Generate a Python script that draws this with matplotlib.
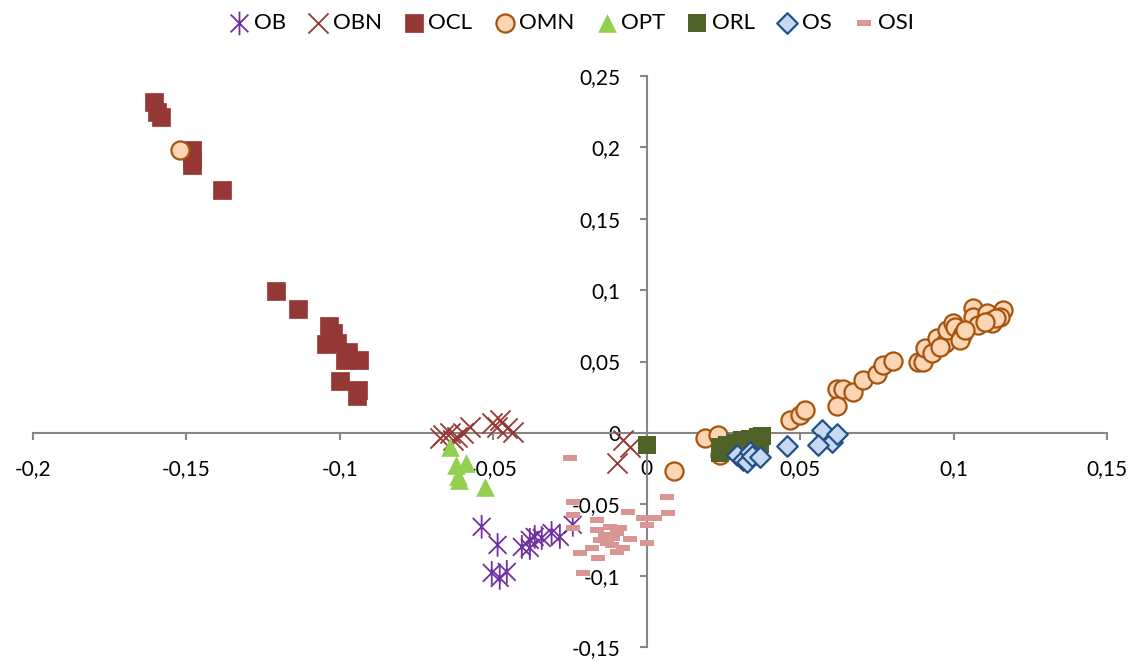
import matplotlib
matplotlib.use("Agg")
import matplotlib.pyplot as plt
import matplotlib.ticker as ticker
from matplotlib.path import Path

plt.rcParams["font.family"] = ["Lato", "DejaVu Sans"]

# ── data ──
ob_x = [-0.0538, -0.0486, -0.0407, -0.0381, -0.0365, -0.0342, -0.0310, -0.0283,
        -0.0241, -0.0505, -0.0479, -0.0456, -0.0381]
ob_y = [-0.0658, -0.0785, -0.0799, -0.0750, -0.0729, -0.0736, -0.0701, -0.0729,
        -0.0644, -0.0981, -0.1016, -0.0974, -0.0806]

obn_x = [-0.0665, -0.0642, -0.0619, -0.0600, -0.0577, -0.0632, -0.0674, -0.0505,
         -0.0479, -0.0456, -0.0437, -0.0489, -0.0078, -0.0055, -0.0098]
obn_y = [-0.0014, 0.0000, -0.0028, 0.0000, 0.0042, -0.0049, -0.0035, 0.0070,
         0.0091, 0.0035, 0.0007, 0.0042, -0.0049, -0.0098, -0.0210]

ocl_x = [-0.1606, -0.1597, -0.1584, -0.1483, -0.1483, -0.1483, -0.1385, -0.1209,
         -0.1137, -0.1036, -0.1023, -0.1046, -0.1010, -0.0974, -0.0984, -0.0938,
         -0.1000, -0.0942, -0.0945]
ocl_y = [0.232, 0.225, 0.221, 0.198, 0.191, 0.188, 0.170, 0.0995,
         0.0869, 0.075, 0.070, 0.062, 0.063, 0.057, 0.051, 0.051,
         0.036, 0.030, 0.026]

omn_x = [-0.1522, 0.0088, 0.0189, 0.0231, 0.0238, 0.0466, 0.0499, 0.0515, 0.0619,
         0.0639, 0.0671, 0.0619, 0.0704, 0.0749, 0.0769, 0.0802, 0.0883, 0.0899,
         0.0906, 0.0929, 0.0945, 0.0971, 0.0978, 0.0997, 0.1004, 0.1026, 0.1020,
         0.1062, 0.1062, 0.1108, 0.1079, 0.1127, 0.1160, 0.1150, 0.1124, 0.1140,
         0.1036, 0.1101, 0.0955]
omn_y = [0.1982, -0.0266, -0.0035, -0.0014, -0.0154, 0.0091, 0.0126, 0.0161, 0.0308,
         0.0308, 0.0287, 0.0189, 0.0371, 0.0413, 0.0476, 0.0504, 0.0497, 0.0497,
         0.0595, 0.0560, 0.0665, 0.0630, 0.0722, 0.0771, 0.0743, 0.0687, 0.0651,
         0.0876, 0.0813, 0.0841, 0.0757, 0.0792, 0.0862, 0.0813, 0.0771, 0.0806,
         0.0722, 0.0778, 0.0602]

opt_x = [-0.0642, -0.0622, -0.0590, -0.0616, -0.0613, -0.0528]
opt_y = [-0.0098, -0.0224, -0.0210, -0.0301, -0.0329, -0.0378]

orl_x = [0.0238, 0.0261, 0.0287, 0.0310, 0.0336, 0.0362, 0.0375, 0.0238,
         0.0270, 0.0303, 0.0342, 0.0368, 0.0000]
orl_y = [-0.0098, -0.0084, -0.0070, -0.0049, -0.0042, -0.0028, -0.0021, -0.0140,
         -0.0126, -0.0105, -0.0091, -0.0077, -0.0084]

os_x = [0.0293, 0.0313, 0.0326, 0.0336, 0.0342, 0.0368, 0.0456, 0.0570, 0.0603,
        0.0619, 0.0557]
os_y = [-0.0154, -0.0189, -0.0203, -0.0133, -0.0161, -0.0168, -0.0091, 0.0021,
        -0.0063, -0.0007, -0.0084]

osi_x = [-0.0251, 0.0065, 0.0068, -0.0241, -0.0241, -0.0163, -0.0062, -0.0013,
         0.0026, 0.0000, -0.0241, -0.0163, -0.0121, -0.0098, -0.0055, -0.0153,
         -0.0130, 0.0000, -0.0218, -0.0179, -0.0160, -0.0098, -0.0078, -0.0111,
         -0.0088, -0.0209, -0.0137, -0.0114]
osi_y = [-0.0175, -0.0448, -0.0560, -0.0483, -0.0574, -0.0609, -0.0553, -0.0595,
         -0.0595, -0.0644, -0.0665, -0.0680, -0.0658, -0.0701, -0.0743, -0.0750,
         -0.0771, -0.0771, -0.0841, -0.0806, -0.0876, -0.0834, -0.0806, -0.0736,
         -0.0665, -0.0981, -0.0715, -0.0785]

x_ticks = [-0.2, -0.15, -0.1, -0.05, 0, 0.05, 0.1, 0.15]
y_ticks = [-0.15, -0.1, -0.05, 0, 0.05, 0.1, 0.15, 0.2, 0.25]

# Excel-style markers: "Ж" asterisk (vertical bar + X) and flat dash
ast = Path([(0, -1), (0, 1), (-0.75, -0.75), (0.75, 0.75), (-0.75, 0.75), (0.75, -0.75)],
           [Path.MOVETO, Path.LINETO] * 3)
dash = [(-1, -0.4), (1, -0.4), (1, 0.4), (-1, 0.4), (-1, -0.4)]


def comma_fmt(v, pos=None):
    return f"{round(v, 4):g}".replace(".", ",")


fig = plt.figure(figsize=(11.4, 6.61), dpi=100)
ax = fig.add_axes([0.029, 0.0212, 0.942, 0.8638])

ax.scatter(ob_x, ob_y, marker=ast, s=290, facecolors="none", edgecolors="#7030A0",
           linewidths=1.3, label="OB", zorder=3)
ax.scatter(obn_x, obn_y, marker="x", s=210, color="#953735",
           linewidths=1.3, label="OBN", zorder=3)
ax.scatter(ocl_x, ocl_y, marker="s", s=150, color="#953735",
           edgecolors="#953735", linewidths=0.5, label="OCL", zorder=3)
ax.scatter(omn_x, omn_y, marker="o", s=170, facecolor="#FCD5B5",
           edgecolors="#A5540F", linewidths=1.6, label="OMN", zorder=3)
ax.scatter(opt_x, opt_y, marker="^", s=180, color="#92D050",
           linewidths=0, label="OPT", zorder=3)
ax.scatter(orl_x, orl_y, marker="s", s=150, color="#4F6228",
           linewidths=0, label="ORL", zorder=3)
ax.scatter(os_x, os_y, marker="D", s=110, facecolor="#C6D9F1",
           edgecolors="#24508A", linewidths=1.6, label="OS", zorder=4)
ax.scatter(osi_x, osi_y, marker=dash, s=100, color="#DA9694",
           linewidths=0, label="OSI", zorder=3)

ax.set_xlim(-0.2, 0.15)
ax.set_ylim(-0.15, 0.25)
ax.set_xticks(x_ticks)
ax.set_yticks(y_ticks)
ax.xaxis.set_major_formatter(ticker.FuncFormatter(comma_fmt))
ax.yaxis.set_major_formatter(ticker.FuncFormatter(comma_fmt))

for side in ["top", "right"]:
    ax.spines[side].set_visible(False)
for side in ["left", "bottom"]:
    ax.spines[side].set_position(("data", 0))
    ax.spines[side].set_color("#868686")
    ax.spines[side].set_linewidth(1.5)
ax.tick_params(direction="out", length=5, width=1.5, color="#868686",
               labelsize=15, pad=14)

ax.legend(loc="upper center", bbox_to_anchor=(0.5, 1.145), ncol=8, frameon=False,
          fontsize=16, handletextpad=0.05, columnspacing=0.85, markerscale=1.0,
          handlelength=1.2)

fig.savefig("out.png", dpi=100)
